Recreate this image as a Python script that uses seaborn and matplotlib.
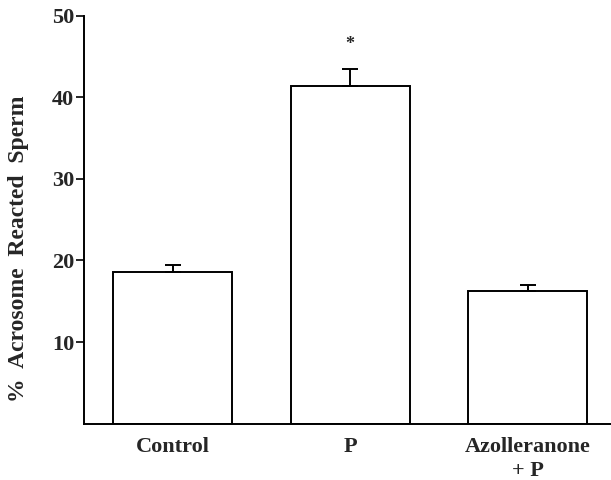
import matplotlib
matplotlib.use("Agg")
import matplotlib.pyplot as plt
import seaborn as sns
import pandas as pd
import numpy as np

categories = ["Control", "P", "Azolleranone\n+ P"]
values = [18.6, 41.4, 16.2]
errors = [0.9, 2.1, 0.8]
significance = ["", "*", ""]
y_ticks = [10, 20, 30, 40, 50]

sns.set_theme(style="ticks")
plt.rcParams["font.family"] = ["Liberation Serif", "DejaVu Serif"]
plt.rcParams["font.weight"] = "bold"

df = pd.DataFrame({"group": categories, "value": values})

fig = plt.figure(figsize=(6.11, 4.8), dpi=100)
ax = fig.add_axes([0.1375, 0.1177, 0.8625, 0.849])

sns.barplot(data=df, x="group", y="value", ax=ax, color="white",
            edgecolor="black", linewidth=1.4, width=0.67, errorbar=None)

xpos = np.arange(len(categories))
ax.errorbar(xpos, values, yerr=[np.zeros(len(errors)), errors], fmt="none",
            ecolor="black", elinewidth=1.4, capsize=5.5, capthick=1.4)

for x, v, e, s in zip(xpos, values, errors, significance):
    if s:
        ax.text(x, v + e + 3.0, s, ha="center", va="center", fontsize=13,
                fontweight="bold")

ax.set_ylim(0, 50)
ax.set_xlim(-0.5, 2.47)
ax.set_yticks(y_ticks)
ax.set_yticklabels([str(t) for t in y_ticks], fontsize=16, fontweight="bold")
ax.set_xticks(xpos)
ax.set_xticklabels(categories, fontsize=16, fontweight="bold", linespacing=1.25)
ax.tick_params(axis="x", length=0, pad=10)
ax.tick_params(axis="y", length=6, width=1.4, pad=1)
ax.set_xlabel("")
ax.set_ylabel("%  Acrosome  Reacted  Sperm", fontsize=17, fontweight="bold")
ax.yaxis.set_label_coords(-0.104, 0.43)
for side in ["top", "right"]:
    ax.spines[side].set_visible(False)
for side in ["left", "bottom"]:
    ax.spines[side].set_linewidth(1.4)
    ax.spines[side].set_color("black")

fig.savefig("out.png", dpi=100)
